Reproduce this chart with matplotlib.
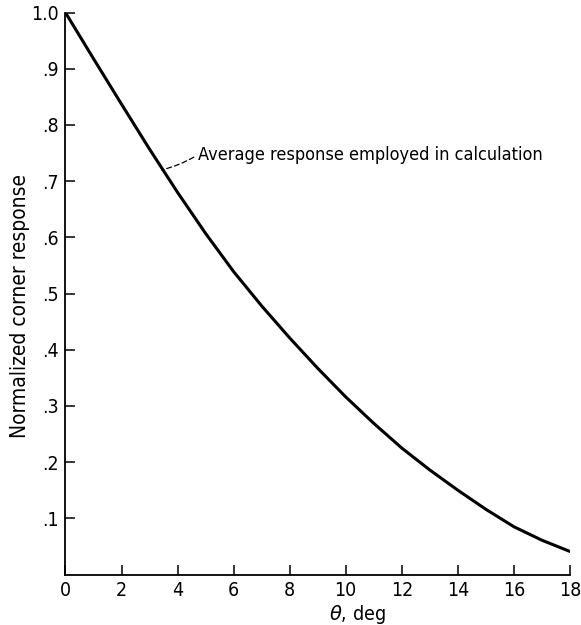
import matplotlib
matplotlib.use("Agg")
import matplotlib.pyplot as plt
from matplotlib import font_manager as fm

# normalized corner response vs angle
theta = [0, 1, 2, 3, 4, 5, 6, 7, 8, 9, 10, 11, 12, 13, 14, 15, 16, 17, 18]
response = [1.000, 0.918, 0.837, 0.757, 0.680, 0.607, 0.539, 0.478, 0.421,
            0.367, 0.316, 0.269, 0.225, 0.186, 0.150, 0.116, 0.085, 0.061, 0.041]

x_ticks = [0, 2, 4, 6, 8, 10, 12, 14, 16, 18]
y_ticks = [0.1, 0.2, 0.3, 0.4, 0.5, 0.6, 0.7, 0.8, 0.9, 1.0]
y_ticklabels = [".1", ".2", ".3", ".4", ".5", ".6", ".7", ".8", ".9", "1.0"]

note = "Average response employed in calculation"
note_at = (3.43, 0.72)      # point on curve
note_text = (4.72, 0.747)   # start of text


def narrow_font():
    # look for a condensed face; fall back to plain DejaVu
    for fam, st in (("Liberation Sans Narrow", "normal"), ("DejaVu Sans", "condensed")):
        try:
            p = fm.findfont(fm.FontProperties(family=fam, stretch=st), fallback_to_default=False)
        except Exception:
            continue
        if "narrow" in p.lower() or "condensed" in p.lower():
            return fm.FontProperties(fname=p), 1.0
    return fm.FontProperties(family="DejaVu Sans"), 0.85


fp, k = narrow_font()

fig = plt.figure(figsize=(5.81, 6.25), dpi=100)
ax = fig.add_axes([0.1127, 0.0808, 0.8683, 0.899])

ax.plot(theta, response, color="black", lw=2.2, solid_capstyle="round",
        solid_joinstyle="round")

fpn = fp.copy(); fpn.set_size(13 * k)
ax.annotate(note, xy=note_at, xytext=note_text, va="center", ha="left", fontproperties=fpn,
            arrowprops=dict(arrowstyle="-", ls=(0, (4, 2.5)), lw=0.9, color="black",
                            relpos=(0.0, 0.5), shrinkA=1, shrinkB=0,
                            connectionstyle="arc3,rad=-0.08"))

ax.set_xlim(0, 18)
ax.set_ylim(0, 1.0)
ax.set_xticks(x_ticks)
ax.set_yticks(y_ticks)
ax.set_yticklabels(y_ticklabels)
ax.tick_params(direction="in", length=7.5, width=1.1, pad=5, colors="black")
fpt = fp.copy(); fpt.set_size(14 * k)
for lab in ax.get_xticklabels() + ax.get_yticklabels():
    lab.set_fontproperties(fpt)
for s in ("top", "right"):
    ax.spines[s].set_visible(False)
for s in ("left", "bottom"):
    ax.spines[s].set_linewidth(1.3)

fpl = fp.copy(); fpl.set_size(14 * k)
ax.set_xlabel(r"$\theta$, deg", fontproperties=fpl, va="center")
ax.xaxis.set_label_coords(0.578, -0.072)
fpy = fp.copy(); fpy.set_size(15 * k)
ax.set_ylabel("Normalized corner response", fontproperties=fpy, va="center")
ax.yaxis.set_label_coords(-0.09, 0.478)

fig.savefig("out.png", dpi=100)
